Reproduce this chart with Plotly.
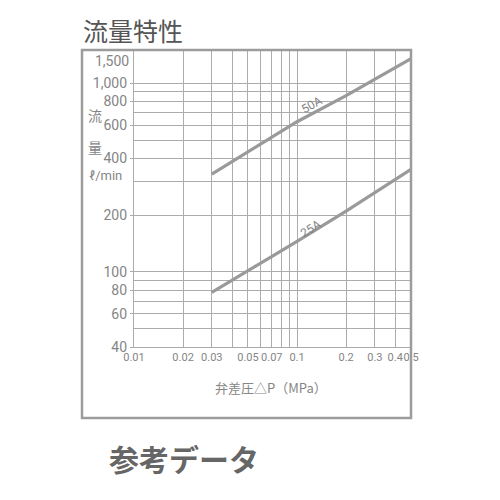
import math
import plotly.graph_objects as go

# ---- data ----
dp_50A = [0.03, 0.1, 0.2, 0.5]
q_50A = [330, 625, 860, 1350]
dp_25A = [0.03, 0.1, 0.2, 0.5]
q_25A = [78, 145, 210, 350]

x_ticks = [0.01, 0.02, 0.03, 0.05, 0.07, 0.1, 0.2, 0.3, 0.4, 0.5]
x_ticktext = ["0.01", "0.02", "0.03", "0.05", "0.07", "0.1", "0.2", "0.3", "0.4", "0.5"]
x_minor = [0.04, 0.06, 0.08, 0.09]
y_ticks = [40, 60, 80, 100, 200, 400, 600, 800, 1000]
y_ticktext = ["40", "60", "80", "100", "200", "400", "600", "800", "1,000"]
y_top_label = "1,500"
y_minor = [50, 70, 90, 300, 500, 700, 900]

GRID = "#ababab"
LINE = "#9a9a9a"
TXT = "#858585"
NUM = "Roboto, Liberation Sans, sans-serif"
CJK = "Noto Sans CJK JP, sans-serif"

OFF = 8  # page body margin in px


def px(xp):
    return (xp - OFF) / 500


def py(yp):
    return 1 - (yp - OFF) / 500


fig = go.Figure()
fig.add_trace(go.Scatter(x=dp_50A, y=q_50A, mode="lines",
                         line=dict(color=LINE, width=3.2), showlegend=False, hoverinfo="skip"))
fig.add_trace(go.Scatter(x=dp_25A, y=q_25A, mode="lines",
                         line=dict(color=LINE, width=3.2), showlegend=False, hoverinfo="skip"))

fig.update_layout(
    template="none",
    width=500, height=500, autosize=False,
    margin=dict(l=0, r=0, t=0, b=0, pad=0),
    paper_bgcolor="white", plot_bgcolor="white",
    xaxis=dict(type="log", domain=[px(134), px(411)], automargin=False,
               range=[math.log10(0.01), math.log10(0.5)],
               tickmode="array", tickvals=x_ticks, ticktext=x_ticktext,
               tickangle=0,
               showgrid=True, gridcolor=GRID, gridwidth=1.3,
               minor=dict(tickmode="array", tickvals=x_minor, showgrid=True,
                          gridcolor=GRID, gridwidth=1.3, ticks=""),
               showline=True, linecolor=GRID, linewidth=1.3,
               ticks="", zeroline=False,
               tickfont=dict(family=NUM, size=11, color=TXT)),
    yaxis=dict(type="log", domain=[py(347), py(50)], automargin=False,
               range=[math.log10(40), math.log10(1500)],
               tickmode="array", tickvals=y_ticks, ticktext=y_ticktext,
               showgrid=True, gridcolor=GRID, gridwidth=1.3,
               minor=dict(tickmode="array", tickvals=y_minor, showgrid=True,
                          gridcolor=GRID, gridwidth=1.3, ticks=""),
               showline=True, linecolor=GRID, linewidth=1.3,
               ticks="outside", ticklen=3, tickcolor=GRID,
               zeroline=False,
               tickfont=dict(family=NUM, size=14, color=TXT)),
)

# outer frame
fig.add_shape(type="rect", xref="paper", yref="paper",
              x0=px(82), x1=px(411), y0=py(418), y1=py(50),
              line=dict(color="#9c9c9c", width=2.5), layer="above")

ann = []
ann.append(dict(text="流量特性", xref="paper", yref="paper", x=px(81), y=py(30),
                xanchor="left", yanchor="middle", showarrow=False,
                font=dict(family=CJK, size=25, color="#555555")))
ann.append(dict(text="<b>参考データ</b>", xref="paper", yref="paper", x=px(184), y=py(458),
                xanchor="center", yanchor="middle", showarrow=False,
                font=dict(family=CJK, size=30, color="#666666")))
ann.append(dict(text="弁差圧△P（MPa）", xref="paper", yref="paper", x=px(271), y=py(387),
                xanchor="center", yanchor="middle", showarrow=False,
                font=dict(family=CJK, size=13, color=TXT)))
ann.append(dict(text="流", xref="paper", yref="paper", x=px(95), y=py(115),
                xanchor="center", yanchor="middle", showarrow=False,
                font=dict(family=CJK, size=14, color=TXT)))
ann.append(dict(text="量", xref="paper", yref="paper", x=px(95), y=py(147),
                xanchor="center", yanchor="middle", showarrow=False,
                font=dict(family=CJK, size=14, color=TXT)))
ann.append(dict(text="ℓ/min", xref="paper", yref="paper", x=px(105), y=py(175),
                xanchor="center", yanchor="middle", showarrow=False,
                font=dict(family=NUM, size=13, color=TXT)))
ann.append(dict(text=y_top_label, xref="paper", yref="paper", x=px(131), y=py(61),
                xanchor="right", yanchor="middle", showarrow=False,
                font=dict(family=NUM, size=14, color=TXT)))
ann.append(dict(text="50A", x=math.log10(0.128), y=math.log10(680), xref="x", yref="y",
                showarrow=False, textangle=-30, yshift=10, xshift=-3,
                font=dict(family=NUM, size=12, color=TXT)))
ann.append(dict(text="25A", x=math.log10(0.1256), y=math.log10(150), xref="x", yref="y",
                showarrow=False, textangle=-32, yshift=10, xshift=-3,
                font=dict(family=NUM, size=12, color=TXT)))
fig.update_layout(annotations=ann)

fig.write_html("out.html")
